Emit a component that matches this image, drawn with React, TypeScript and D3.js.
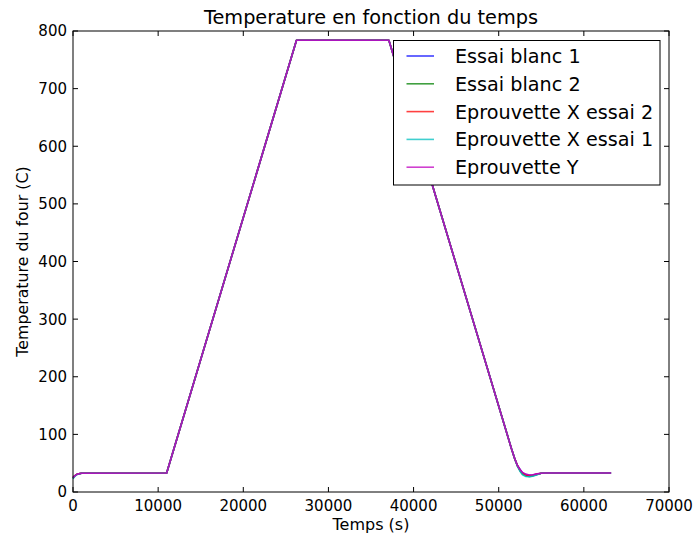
import React from "react";
import * as d3 from "d3";

const W = 693, H = 536;
const M = { left: 73, right: 669, top: 31, bottom: 492 };

const xTicks = [0, 10000, 20000, 30000, 40000, 50000, 60000, 70000];
const yTicks = [0, 100, 200, 300, 400, 500, 600, 700, 800];

const seriesNames = ["Essai blanc 1", "Essai blanc 2", "Eprouvette X essai 2", "Eprouvette X essai 1", "Eprouvette Y"];
const seriesColors = ["#0000ff", "#008000", "#ff0000", "#00bfbf", "#bf00bf"];

const timeBlanc1 = [0, 200, 500, 1000, 11000, 26250, 37100, 51500, 51900, 52200, 52500, 52800, 53200, 53600, 54000, 54500, 55000, 55500, 63200];
const tempBlanc1 = [25, 28, 31, 32.5, 33, 784, 784, 75, 57, 46, 39, 33, 30, 29, 29.5, 31, 32.5, 33, 33];
const timeBlanc2 = [0, 200, 500, 1000, 11000, 26250, 37100, 51500, 51900, 52200, 52500, 52800, 53200, 53600, 54000, 54500, 55000, 55500, 63200];
const tempBlanc2 = [24, 28, 31, 32.5, 33, 784, 784, 75, 57, 45, 37, 31, 28, 27, 28, 30.5, 32.5, 33, 33];
const timeX2 = [0, 200, 500, 1000, 11000, 26250, 37100, 51500, 51900, 52200, 52500, 52800, 53200, 53600, 54000, 54500, 55000, 55500, 63200];
const tempX2 = [25, 28, 31, 32.5, 33, 784, 784, 75, 57, 46, 38, 32, 29, 28, 29, 31, 32.5, 33, 33];
const timeX1 = [0, 200, 500, 1000, 11000, 26250, 37100, 51500, 51900, 52200, 52500, 52800, 53200, 53600, 54000, 54500, 55000, 55500, 63200];
const tempX1 = [23, 27, 30.5, 32.5, 33, 784, 784, 75, 57, 45, 36, 30, 27, 26.5, 27.5, 30, 32.5, 33, 33];
const timeY = [0, 200, 500, 1000, 11000, 26250, 37100, 51500, 51900, 52200, 52500, 52800, 53200, 53600, 54000, 54500, 55000, 55500, 63200];
const tempY = [25, 28, 31, 32.5, 33, 784, 784, 75, 57, 46, 39, 34, 31, 29.5, 30, 31.5, 32.5, 33, 33];

const seriesTimes = [timeBlanc1, timeBlanc2, timeX2, timeX1, timeY];
const seriesTemps = [tempBlanc1, tempBlanc2, tempX2, tempX1, tempY];

export default function App() {
  const x = d3.scaleLinear().domain([0, 70000]).range([M.left, M.right]);
  const y = d3.scaleLinear().domain([0, 800]).range([M.bottom, M.top]);
  const line = d3.line<[number, number]>().x(d => x(d[0])).y(d => y(d[1]));
  const font = "'DejaVu Sans', sans-serif";
  const tl = 5;
  return (
    <svg width={W} height={H} style={{ position: "absolute", left: 0, top: 0 }} fontFamily={font}>
      <rect x={0} y={0} width={W} height={H} fill="#fff" />
      {seriesNames.map((n, i) => (
        <path key={n} d={line(seriesTimes[i].map((t, k) => [t, seriesTemps[i][k]] as [number, number])) || ""}
          fill="none" stroke={seriesColors[i]} strokeOpacity={0.88} strokeWidth={1.6} strokeLinejoin="round" />
      ))}
      <rect x={M.left} y={M.top} width={M.right - M.left} height={M.bottom - M.top} fill="none" stroke="#000" strokeWidth={1} />
      {xTicks.map(t => (
        <g key={"x" + t}>
          <line x1={x(t)} x2={x(t)} y1={M.bottom} y2={M.bottom - tl} stroke="#000" />
          <line x1={x(t)} x2={x(t)} y1={M.top} y2={M.top + tl} stroke="#000" />
          <text x={x(t)} y={511} textAnchor="middle" fontSize={15}>{t}</text>
        </g>
      ))}
      {yTicks.map(t => (
        <g key={"y" + t}>
          <line x1={M.left} x2={M.left + tl} y1={y(t)} y2={y(t)} stroke="#000" />
          <line x1={M.right} x2={M.right - tl} y1={y(t)} y2={y(t)} stroke="#000" />
          <text x={67} y={y(t)} dy="0.36em" textAnchor="end" fontSize={15}>{t}</text>
        </g>
      ))}
      <text x={(M.left + M.right) / 2} y={24} textAnchor="middle" fontSize={19.3}>Temperature en fonction du temps</text>
      <text x={(M.left + M.right) / 2} y={530} textAnchor="middle" fontSize={16}>Temps (s)</text>
      <text transform={`translate(28,${(M.top + M.bottom) / 2}) rotate(-90)`} textAnchor="middle" fontSize={15.8}>Temperature du four (C)</text>
      <g>
        <rect x={393.5} y={40.5} width={266.5} height={144.5} fill="#fff" stroke="#000" strokeWidth={1} />
        {seriesNames.map((n, i) => (
          <g key={"l" + n}>
            <line x1={406.5} x2={434} y1={56 + i * 27.8} y2={56 + i * 27.8} stroke={seriesColors[i]} strokeOpacity={0.75} strokeWidth={1.6} />
            <text x={455} y={56 + i * 27.8} dy="0.36em" fontSize={19.2}>{n}</text>
          </g>
        ))}
      </g>
    </svg>
  );
}
